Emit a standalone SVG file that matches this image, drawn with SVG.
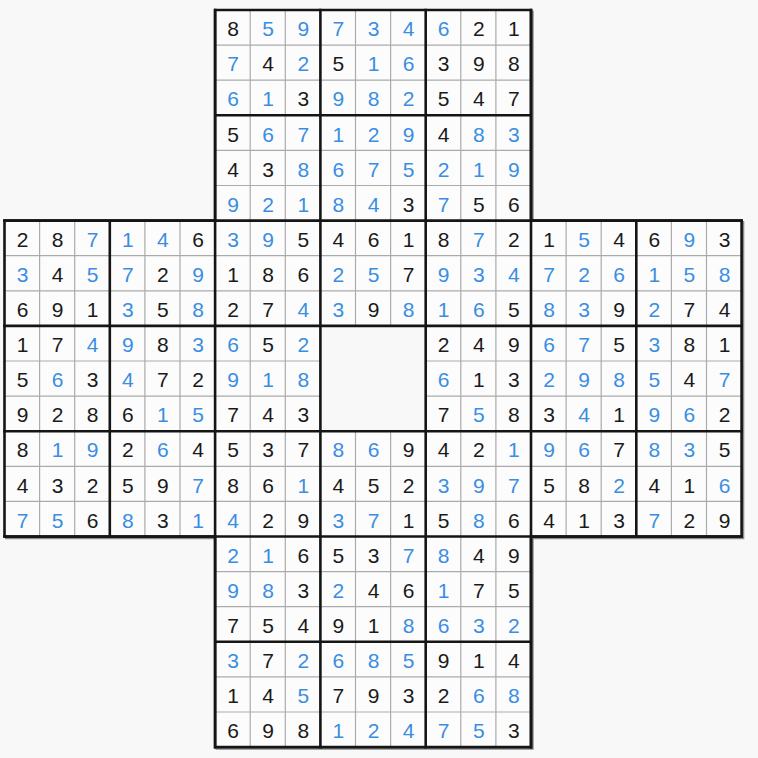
<svg xmlns="http://www.w3.org/2000/svg" width="758" height="758" viewBox="0 0 758 758">
<style>
.bg{fill:#f8f8f8}
.cells{fill:#fcfcfc}
.hole{fill:#f8f8f8}
.thin{stroke:#ababab;stroke-width:1.2;fill:none}
.thick{stroke:#151515;stroke-width:2.6;fill:none;stroke-linecap:square}
.shadow{fill:none;stroke:#8a8a8a;stroke-width:2.2}
text{font-family:"Liberation Sans",Arial,sans-serif;font-size:21px;text-anchor:middle;fill:#1a1a1a}
.b{fill:#3a8ee2}
</style>
<rect class="bg" x="0" y="0" width="758" height="758"/>
<g id="grid" transform="translate(4.5,10)">
  <polygon class="shadow" transform="translate(1.6,1.6)" points="210.6,0 526.5,0 526.5,210.6 737.1,210.6 737.1,526.5 526.5,526.5 526.5,737.1 210.6,737.1 210.6,526.5 0,526.5 0,210.6 210.6,210.6"/>
  <polygon class="cells" points="210.6,0 526.5,0 526.5,210.6 737.1,210.6 737.1,526.5 526.5,526.5 526.5,737.1 210.6,737.1 210.6,526.5 0,526.5 0,210.6 210.6,210.6"/>
  <rect class="hole" x="315.9" y="315.9" width="105.3" height="105.3"/>
  <path class="thin" d="M210.6,35.1H526.5M210.6,70.2H526.5M210.6,140.4H526.5M210.6,175.5H526.5
    M0,245.7H737.1M0,280.8H737.1M0,456.3H737.1M0,491.4H737.1
    M0,351H315.9M421.2,351H737.1M0,386.1H315.9M421.2,386.1H737.1
    M210.6,561.6H526.5M210.6,596.7H526.5M210.6,666.9H526.5M210.6,702H526.5
    M35.1,210.6V526.5M70.2,210.6V526.5M140.4,210.6V526.5M175.5,210.6V526.5
    M245.7,0V737.1M280.8,0V737.1M456.3,0V737.1M491.4,0V737.1
    M351,0V315.9M351,421.2V737.1M386.1,0V315.9M386.1,421.2V737.1
    M561.6,210.6V526.5M596.7,210.6V526.5M666.9,210.6V526.5M702,210.6V526.5"/>
  <path class="thick" d="M210.6,105.3H526.5M0,315.9H737.1M0,421.2H737.1M210.6,631.8H526.5
    M105.3,210.6V526.5M315.9,0V737.1M421.2,0V737.1M631.8,210.6V526.5
    M0,210.6H737.1M0,526.5H737.1M210.6,0V737.1M526.5,0V737.1"/>
  <polygon class="thick" points="210.6,0 526.5,0 526.5,210.6 737.1,210.6 737.1,526.5 526.5,526.5 526.5,737.1 210.6,737.1 210.6,526.5 0,526.5 0,210.6 210.6,210.6"/>
</g>
<g id="digits" transform="translate(4.5,10)">
<text y="26.2"><tspan x="228.6">8</tspan><tspan x="263.7" class="b">5</tspan><tspan x="298.8" class="b">9</tspan><tspan x="333.9" class="b">7</tspan><tspan x="369" class="b">3</tspan><tspan x="404.1" class="b">4</tspan><tspan x="439.2" class="b">6</tspan><tspan x="474.3">2</tspan><tspan x="509.4">1</tspan></text>
<text y="61.3"><tspan x="228.6" class="b">7</tspan><tspan x="263.7">4</tspan><tspan x="298.8" class="b">2</tspan><tspan x="333.9">5</tspan><tspan x="369" class="b">1</tspan><tspan x="404.1" class="b">6</tspan><tspan x="439.2">3</tspan><tspan x="474.3">9</tspan><tspan x="509.4">8</tspan></text>
<text y="96.4"><tspan x="228.6" class="b">6</tspan><tspan x="263.7" class="b">1</tspan><tspan x="298.8">3</tspan><tspan x="333.9" class="b">9</tspan><tspan x="369" class="b">8</tspan><tspan x="404.1" class="b">2</tspan><tspan x="439.2">5</tspan><tspan x="474.3">4</tspan><tspan x="509.4">7</tspan></text>
<text y="131.5"><tspan x="228.6">5</tspan><tspan x="263.7" class="b">6</tspan><tspan x="298.8" class="b">7</tspan><tspan x="333.9" class="b">1</tspan><tspan x="369" class="b">2</tspan><tspan x="404.1" class="b">9</tspan><tspan x="439.2">4</tspan><tspan x="474.3" class="b">8</tspan><tspan x="509.4" class="b">3</tspan></text>
<text y="166.6"><tspan x="228.6">4</tspan><tspan x="263.7">3</tspan><tspan x="298.8" class="b">8</tspan><tspan x="333.9" class="b">6</tspan><tspan x="369" class="b">7</tspan><tspan x="404.1" class="b">5</tspan><tspan x="439.2" class="b">2</tspan><tspan x="474.3" class="b">1</tspan><tspan x="509.4" class="b">9</tspan></text>
<text y="201.7"><tspan x="228.6" class="b">9</tspan><tspan x="263.7" class="b">2</tspan><tspan x="298.8" class="b">1</tspan><tspan x="333.9" class="b">8</tspan><tspan x="369" class="b">4</tspan><tspan x="404.1">3</tspan><tspan x="439.2" class="b">7</tspan><tspan x="474.3">5</tspan><tspan x="509.4">6</tspan></text>
<text y="236.8"><tspan x="18">2</tspan><tspan x="53.1">8</tspan><tspan x="88.2" class="b">7</tspan><tspan x="123.3" class="b">1</tspan><tspan x="158.4" class="b">4</tspan><tspan x="193.5">6</tspan><tspan x="228.6" class="b">3</tspan><tspan x="263.7" class="b">9</tspan><tspan x="298.8">5</tspan><tspan x="333.9">4</tspan><tspan x="369">6</tspan><tspan x="404.1">1</tspan><tspan x="439.2">8</tspan><tspan x="474.3" class="b">7</tspan><tspan x="509.4">2</tspan><tspan x="544.5">1</tspan><tspan x="579.6" class="b">5</tspan><tspan x="614.7">4</tspan><tspan x="649.8">6</tspan><tspan x="684.9" class="b">9</tspan><tspan x="720">3</tspan></text>
<text y="271.9"><tspan x="18" class="b">3</tspan><tspan x="53.1">4</tspan><tspan x="88.2" class="b">5</tspan><tspan x="123.3" class="b">7</tspan><tspan x="158.4">2</tspan><tspan x="193.5" class="b">9</tspan><tspan x="228.6">1</tspan><tspan x="263.7">8</tspan><tspan x="298.8">6</tspan><tspan x="333.9" class="b">2</tspan><tspan x="369" class="b">5</tspan><tspan x="404.1">7</tspan><tspan x="439.2" class="b">9</tspan><tspan x="474.3" class="b">3</tspan><tspan x="509.4" class="b">4</tspan><tspan x="544.5" class="b">7</tspan><tspan x="579.6" class="b">2</tspan><tspan x="614.7" class="b">6</tspan><tspan x="649.8" class="b">1</tspan><tspan x="684.9" class="b">5</tspan><tspan x="720" class="b">8</tspan></text>
<text y="307"><tspan x="18">6</tspan><tspan x="53.1">9</tspan><tspan x="88.2">1</tspan><tspan x="123.3" class="b">3</tspan><tspan x="158.4">5</tspan><tspan x="193.5" class="b">8</tspan><tspan x="228.6">2</tspan><tspan x="263.7">7</tspan><tspan x="298.8" class="b">4</tspan><tspan x="333.9" class="b">3</tspan><tspan x="369">9</tspan><tspan x="404.1" class="b">8</tspan><tspan x="439.2" class="b">1</tspan><tspan x="474.3" class="b">6</tspan><tspan x="509.4">5</tspan><tspan x="544.5" class="b">8</tspan><tspan x="579.6" class="b">3</tspan><tspan x="614.7">9</tspan><tspan x="649.8" class="b">2</tspan><tspan x="684.9">7</tspan><tspan x="720">4</tspan></text>
<text y="342.1"><tspan x="18">1</tspan><tspan x="53.1">7</tspan><tspan x="88.2" class="b">4</tspan><tspan x="123.3" class="b">9</tspan><tspan x="158.4">8</tspan><tspan x="193.5" class="b">3</tspan><tspan x="228.6" class="b">6</tspan><tspan x="263.7">5</tspan><tspan x="298.8" class="b">2</tspan><tspan x="439.2">2</tspan><tspan x="474.3">4</tspan><tspan x="509.4">9</tspan><tspan x="544.5" class="b">6</tspan><tspan x="579.6" class="b">7</tspan><tspan x="614.7">5</tspan><tspan x="649.8" class="b">3</tspan><tspan x="684.9">8</tspan><tspan x="720">1</tspan></text>
<text y="377.2"><tspan x="18">5</tspan><tspan x="53.1" class="b">6</tspan><tspan x="88.2">3</tspan><tspan x="123.3" class="b">4</tspan><tspan x="158.4">7</tspan><tspan x="193.5">2</tspan><tspan x="228.6" class="b">9</tspan><tspan x="263.7" class="b">1</tspan><tspan x="298.8" class="b">8</tspan><tspan x="439.2" class="b">6</tspan><tspan x="474.3">1</tspan><tspan x="509.4">3</tspan><tspan x="544.5" class="b">2</tspan><tspan x="579.6" class="b">9</tspan><tspan x="614.7" class="b">8</tspan><tspan x="649.8" class="b">5</tspan><tspan x="684.9">4</tspan><tspan x="720" class="b">7</tspan></text>
<text y="412.3"><tspan x="18">9</tspan><tspan x="53.1">2</tspan><tspan x="88.2">8</tspan><tspan x="123.3">6</tspan><tspan x="158.4" class="b">1</tspan><tspan x="193.5" class="b">5</tspan><tspan x="228.6">7</tspan><tspan x="263.7">4</tspan><tspan x="298.8">3</tspan><tspan x="439.2">7</tspan><tspan x="474.3" class="b">5</tspan><tspan x="509.4">8</tspan><tspan x="544.5">3</tspan><tspan x="579.6" class="b">4</tspan><tspan x="614.7">1</tspan><tspan x="649.8" class="b">9</tspan><tspan x="684.9" class="b">6</tspan><tspan x="720">2</tspan></text>
<text y="447.4"><tspan x="18">8</tspan><tspan x="53.1" class="b">1</tspan><tspan x="88.2" class="b">9</tspan><tspan x="123.3">2</tspan><tspan x="158.4" class="b">6</tspan><tspan x="193.5">4</tspan><tspan x="228.6">5</tspan><tspan x="263.7">3</tspan><tspan x="298.8">7</tspan><tspan x="333.9" class="b">8</tspan><tspan x="369" class="b">6</tspan><tspan x="404.1">9</tspan><tspan x="439.2">4</tspan><tspan x="474.3">2</tspan><tspan x="509.4" class="b">1</tspan><tspan x="544.5" class="b">9</tspan><tspan x="579.6" class="b">6</tspan><tspan x="614.7">7</tspan><tspan x="649.8" class="b">8</tspan><tspan x="684.9" class="b">3</tspan><tspan x="720">5</tspan></text>
<text y="482.5"><tspan x="18">4</tspan><tspan x="53.1">3</tspan><tspan x="88.2">2</tspan><tspan x="123.3">5</tspan><tspan x="158.4">9</tspan><tspan x="193.5" class="b">7</tspan><tspan x="228.6">8</tspan><tspan x="263.7">6</tspan><tspan x="298.8" class="b">1</tspan><tspan x="333.9">4</tspan><tspan x="369">5</tspan><tspan x="404.1">2</tspan><tspan x="439.2" class="b">3</tspan><tspan x="474.3" class="b">9</tspan><tspan x="509.4" class="b">7</tspan><tspan x="544.5">5</tspan><tspan x="579.6">8</tspan><tspan x="614.7" class="b">2</tspan><tspan x="649.8">4</tspan><tspan x="684.9">1</tspan><tspan x="720" class="b">6</tspan></text>
<text y="517.6"><tspan x="18" class="b">7</tspan><tspan x="53.1" class="b">5</tspan><tspan x="88.2">6</tspan><tspan x="123.3" class="b">8</tspan><tspan x="158.4">3</tspan><tspan x="193.5" class="b">1</tspan><tspan x="228.6" class="b">4</tspan><tspan x="263.7">2</tspan><tspan x="298.8">9</tspan><tspan x="333.9" class="b">3</tspan><tspan x="369" class="b">7</tspan><tspan x="404.1">1</tspan><tspan x="439.2">5</tspan><tspan x="474.3" class="b">8</tspan><tspan x="509.4">6</tspan><tspan x="544.5">4</tspan><tspan x="579.6">1</tspan><tspan x="614.7">3</tspan><tspan x="649.8" class="b">7</tspan><tspan x="684.9">2</tspan><tspan x="720">9</tspan></text>
<text y="552.7"><tspan x="228.6" class="b">2</tspan><tspan x="263.7" class="b">1</tspan><tspan x="298.8">6</tspan><tspan x="333.9">5</tspan><tspan x="369">3</tspan><tspan x="404.1" class="b">7</tspan><tspan x="439.2" class="b">8</tspan><tspan x="474.3">4</tspan><tspan x="509.4">9</tspan></text>
<text y="587.8"><tspan x="228.6" class="b">9</tspan><tspan x="263.7" class="b">8</tspan><tspan x="298.8">3</tspan><tspan x="333.9" class="b">2</tspan><tspan x="369">4</tspan><tspan x="404.1">6</tspan><tspan x="439.2" class="b">1</tspan><tspan x="474.3">7</tspan><tspan x="509.4">5</tspan></text>
<text y="622.9"><tspan x="228.6">7</tspan><tspan x="263.7">5</tspan><tspan x="298.8">4</tspan><tspan x="333.9">9</tspan><tspan x="369">1</tspan><tspan x="404.1" class="b">8</tspan><tspan x="439.2" class="b">6</tspan><tspan x="474.3" class="b">3</tspan><tspan x="509.4" class="b">2</tspan></text>
<text y="658"><tspan x="228.6" class="b">3</tspan><tspan x="263.7">7</tspan><tspan x="298.8" class="b">2</tspan><tspan x="333.9" class="b">6</tspan><tspan x="369" class="b">8</tspan><tspan x="404.1" class="b">5</tspan><tspan x="439.2">9</tspan><tspan x="474.3">1</tspan><tspan x="509.4">4</tspan></text>
<text y="693.1"><tspan x="228.6">1</tspan><tspan x="263.7">4</tspan><tspan x="298.8" class="b">5</tspan><tspan x="333.9">7</tspan><tspan x="369">9</tspan><tspan x="404.1">3</tspan><tspan x="439.2">2</tspan><tspan x="474.3" class="b">6</tspan><tspan x="509.4" class="b">8</tspan></text>
<text y="728.2"><tspan x="228.6">6</tspan><tspan x="263.7">9</tspan><tspan x="298.8">8</tspan><tspan x="333.9" class="b">1</tspan><tspan x="369" class="b">2</tspan><tspan x="404.1" class="b">4</tspan><tspan x="439.2" class="b">7</tspan><tspan x="474.3" class="b">5</tspan><tspan x="509.4">3</tspan></text>
</g>
</svg>
